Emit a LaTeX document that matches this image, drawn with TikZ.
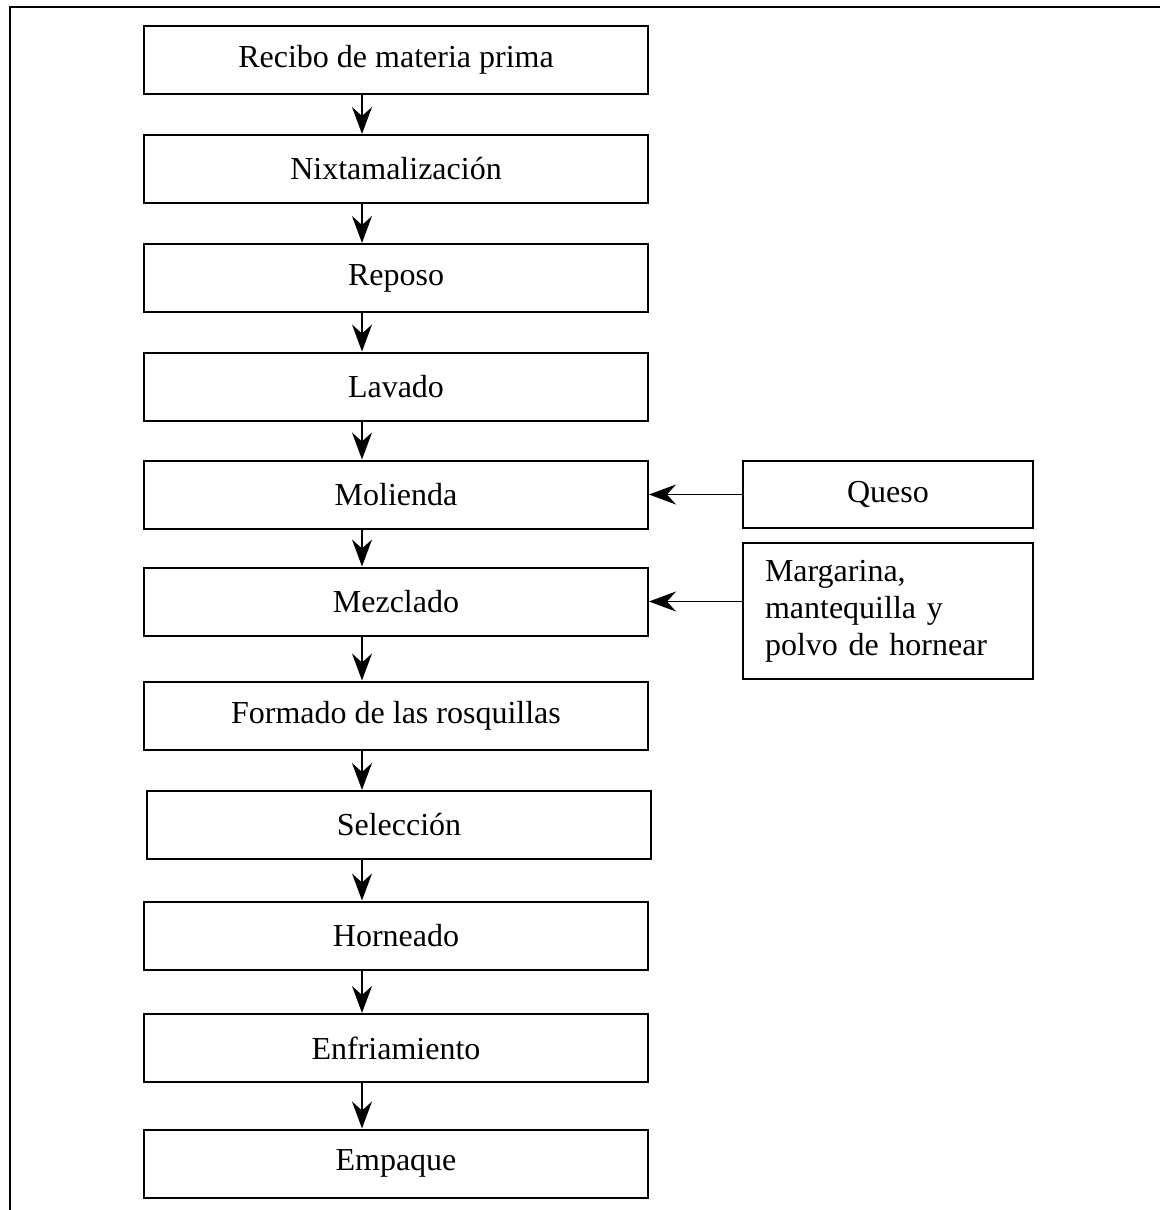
\documentclass[tikz,border=0pt]{standalone}
\usepackage{fontspec}
\setmainfont{Liberation Serif}
\usetikzlibrary{arrows.meta}

\begin{document}
\begin{tikzpicture}[x=0.5pt, y=-0.5pt, font=\fontsize{16}{18.5}\selectfont,
        paso/.style={draw, line width=1pt, minimum width=252pt, minimum height=34pt, inner sep=0pt},
        insumo/.style={draw, line width=1pt, minimum width=145pt, minimum height=33.5pt, inner sep=0pt},
        flecha/.style={line width=0.8pt, -{Stealth[length=13.5pt, width=10pt, inset=4.5pt]}}]
        \useasboundingbox (0,0) rectangle (1160,1210);

        % Outer frame
        \draw[line width=1pt] (10,1210) -- (10,7) -- (1160,7);

        % Process steps
        \node[paso] (recibo) at (396,60) {Recibo de materia prima};
        \node[paso] (nixta) at (396,169) {Nixtamalización};
        \node[paso] (reposo) at (396,278) {Reposo};
        \node[paso] (lavado) at (396,386.5) {Lavado};
        \node[paso] (molienda) at (396,494.5) {Molienda};
        \node[paso] (mezclado) at (396,601.5) {Mezclado};
        \node[paso] (formado) at (396,715.5) {Formado de las rosquillas};
        \node[paso] (seleccion) at (399,825) {Selección};
        \node[paso] (horneado) at (396,935.5) {Horneado};
        \node[paso] (enfriam) at (396,1048) {Enfriamiento};
        \node[paso] (empaque) at (396,1163.5) {Empaque};

        % Inputs
        \node[insumo] (queso) at (888,494.5) {Queso};
        \node[insumo, minimum height=68pt, text width=123pt, inner xsep=11pt, align=left] (margarina) at (888,611)
            {Margarina,\\mantequilla y\\polvo de hornear};

        % Arrows
        \coordinate (ax) at (362,0);
        \foreach \a/\b in {recibo/nixta, nixta/reposo, reposo/lavado, lavado/molienda,
                molienda/mezclado, mezclado/formado, formado/seleccion, seleccion/horneado,
                horneado/enfriam, enfriam/empaque}
            \draw[flecha] (\a.south -| ax) -- (\b.north -| ax);
        \draw[flecha] (queso.west) -- (molienda.east);
        \draw[flecha] (mezclado.east -| margarina.west) -- (mezclado.east);
    \end{tikzpicture}
\end{document}
